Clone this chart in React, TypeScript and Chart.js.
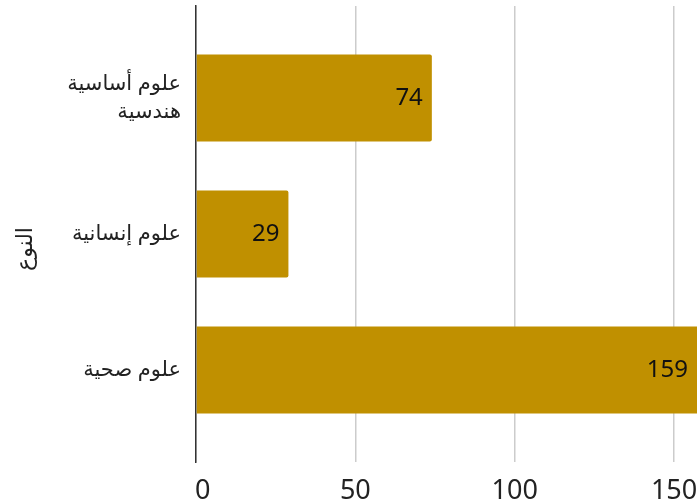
import React, { useEffect, useRef } from 'react';
import { Chart, registerables } from 'chart.js';

Chart.register(...registerables);

const categories: (string | string[])[] = [['علوم أساسية', 'هندسية'], 'علوم إنسانية', 'علوم صحية'];
const values = [74, 29, 159];
const xTicks = [0, 50, 100, 150];
const axisTitle = 'النوع';

const FONT = '"Noto Sans", "DejaVu Sans", sans-serif';

export default function App() {
  const ref = useRef<HTMLCanvasElement>(null);
  useEffect(() => {
    if (!ref.current) return;
    const labelPlugin = {
      id: 'barLabels',
      afterDatasetsDraw(chart: any) {
        const ctx = chart.ctx;
        const meta = chart.getDatasetMeta(0);
        const area = chart.chartArea;
        ctx.save();
        ctx.font = `24px ${FONT}`;
        ctx.fillStyle = '#111';
        ctx.textAlign = 'right';
        ctx.textBaseline = 'middle';
        meta.data.forEach((bar: any, i: number) => {
          const x = Math.min(bar.x, area.right) - 9;
          ctx.fillText(String(values[i]), x, bar.y);
        });
        ctx.restore();
      },
    };
    const titlePlugin = {
      id: 'yTitle',
      afterDraw(chart: any) {
        const ctx = chart.ctx;
        const area = chart.chartArea;
        ctx.save();
        ctx.translate(26, (area.top + area.bottom) / 2 + 15);
        ctx.rotate(-Math.PI / 2);
        ctx.font = `22px ${FONT}`;
        ctx.fillStyle = '#222';
        ctx.textAlign = 'center';
        ctx.textBaseline = 'middle';
        ctx.fillText(axisTitle, 0, 0);
        ctx.restore();
      },
    };
    const chart = new Chart(ref.current, {
      type: 'bar',
      data: {
        datasets: [
          {
            data: values.map((v, i) => ({ x: v, y: i })),
            backgroundColor: '#c09000',
            borderRadius: 2,
            categoryPercentage: 1,
            barPercentage: 0.64,
          } as any,
        ],
      },
      options: {
        indexAxis: 'y',
        animation: false,
        responsive: true,
        maintainAspectRatio: false,
        layout: { padding: { top: 6, right: 0, left: 0, bottom: 0 } },
        plugins: { legend: { display: false }, tooltip: { enabled: false } },
        scales: {
          x: {
            type: 'linear',
            min: 0,
            max: 157.2,
            offset: false,
            afterBuildTicks: (s: any) => {
              s.ticks = xTicks.map((v) => ({ value: v }));
            },
            afterFit: (s: any) => {
              s.height = 42;
              s.paddingLeft = 0;
              s.paddingRight = 0;
            },
            grid: { color: '#cccccc', lineWidth: 1.5, drawTicks: false, offset: false },
            border: { display: false },
            ticks: {
              padding: 13,
              font: { size: 27, family: FONT },
              color: '#222',
              callback: (v: any) => (v === 0 ? '\u2002' + v : String(v)),
            },
          },
          y: {
            type: 'linear',
            reverse: true,
            min: -0.676,
            max: 2.676,
            offset: false,
            afterBuildTicks: (s: any) => {
              s.ticks = categories.map((_, i) => ({ value: i }));
            },
            afterFit: (s: any) => {
              s.width = 196;
              s.paddingTop = 0;
              s.paddingBottom = 0;
            },
            ticks: {
              callback: (_v: any, index: number) => categories[index] as any,
              padding: 15,
              font: { size: 21, family: FONT, lineHeight: 1.3 },
              color: '#222',
            },
            grid: { display: false, drawTicks: false, offset: false },
            border: { display: true, color: '#333', width: 1.5 },
            title: { display: false },
          },
        },
      } as any,
      plugins: [labelPlugin, titlePlugin],
    });
    return () => chart.destroy();
  }, []);
  return (
    <div style={{ position: 'fixed', left: 0, top: 0, width: 697, height: 504 }}>
      <canvas ref={ref} />
    </div>
  );
}
